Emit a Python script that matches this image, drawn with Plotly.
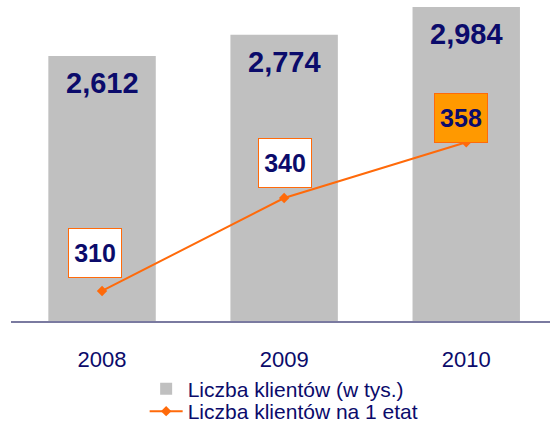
import plotly.graph_objects as go

years = ["2008", "2009", "2010"]
clients = [2612, 2774, 2984]
per_fte = [310, 340, 358]
clients_labels = ["2,612", "2,774", "2,984"]
per_fte_labels = ["310", "340", "358"]

NAVY = "#0B0B6B"
ORANGE = "#FF6A0A"
GRAY = "#C0C0C0"
FONT = "Liberation Sans, Arial, sans-serif"

fig = go.Figure()
fig.add_trace(go.Bar(
    x=years, y=clients, name="Liczba klientów (w tys.)",
    marker=dict(color=GRAY, line=dict(width=0)), width=0.59,
    hoverinfo="skip", legend="legend",
))
fig.add_trace(go.Scatter(
    x=years, y=per_fte, yaxis="y2", name="Liczba klientów na 1 etat",
    mode="lines+markers",
    line=dict(color=ORANGE, width=2),
    marker=dict(symbol="diamond", size=8, color=ORANGE),
    hoverinfo="skip", legend="legend2",
))

# bar value labels
for i, (v, t) in enumerate(zip(clients, clients_labels)):
    fig.add_annotation(x=i, y=v, xref="x", yref="y", text=f"<b>{t}</b>",
                       showarrow=False, yshift=-27, yanchor="middle",
                       font=dict(family=FONT, size=29, color=NAVY))

# line value labels in boxes
box_shift = [(-7, 38), (1, 35), (-5, 24)]
box_fill = ["white", "white", "#FF9900"]
for i, ((v, t), (dx, dy), bg) in enumerate(zip(zip(per_fte, per_fte_labels), box_shift, box_fill)):
    fig.add_annotation(x=i, y=v, xref="x", yref="y2", text=f"<b>{t}</b>",
                       showarrow=False, xshift=dx, yshift=dy,
                       xanchor="center", yanchor="middle",
                       width=52, height=48, borderpad=0,
                       bgcolor=bg, bordercolor=ORANGE, borderwidth=1,
                       font=dict(family=FONT, size=25, color=NAVY))

hidden = dict(showgrid=False, zeroline=False, showline=False,
              showticklabels=False, ticks="")
leg_common = dict(
    orientation="v", xref="container", yref="container",
    xanchor="left", yanchor="middle",
    font=dict(family=FONT, size=21, color=NAVY),
    itemwidth=33, bgcolor="rgba(0,0,0,0)",
)
fig.update_layout(
    width=550, height=424,
    margin=dict(l=11, r=0, t=0, b=103, autoexpand=False),
    paper_bgcolor="white", plot_bgcolor="white",
    font=dict(family=FONT, color=NAVY),
    showlegend=True,
    legend=dict(x=0.263, y=1 - 389 / 424, **leg_common),
    legend2=dict(x=0.263, y=1 - 411.5 / 424, **leg_common),
    xaxis=dict(
        type="category",
        range=[-0.5, 2.46], showgrid=False, zeroline=False,
        showline=True, linecolor="#7A7AA0", linewidth=2,
        ticks="", tickfont=dict(family=FONT, size=22, color=NAVY),
        ticklabelstandoff=18,
    ),
    yaxis=dict(range=[600, 3037], **hidden),
    yaxis2=dict(range=[300.3, 403.9], overlaying="y", **hidden),
    hovermode=False,
)

fig.write_html("out.html", config={"displayModeBar": False},
               post_script="document.body.style.margin='0';")
